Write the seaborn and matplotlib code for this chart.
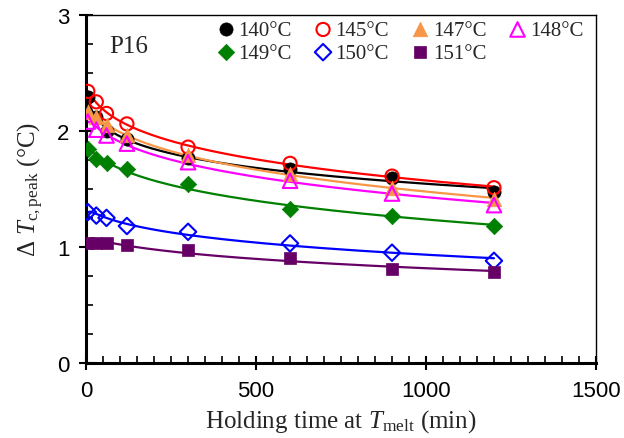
import numpy as np
import pandas as pd
import matplotlib
matplotlib.use("Agg")
import matplotlib.pyplot as plt
from matplotlib.ticker import MultipleLocator
import seaborn as sns

# Holding time at T_melt (min)
time_min = [5, 30, 60, 120, 300, 600, 900, 1200]

# Peak crystallization-temperature shift for each melt temperature
labels = ["140°C", "145°C", "147°C", "148°C", "149°C", "150°C", "151°C"]
dtc_140 = [2.29, 2.12, 2.00, 1.93, 1.77, 1.67, 1.59, 1.47]
dtc_145 = [2.34, 2.25, 2.15, 2.06, 1.86, 1.72, 1.61, 1.51]
dtc_147 = [2.16, 2.12, 2.05, 1.96, 1.79, 1.63, 1.51, 1.41]
dtc_148 = [2.08, 2.01, 1.96, 1.89, 1.73, 1.57, 1.46, 1.36]
dtc_149 = [1.84, 1.76, 1.72, 1.67, 1.54, 1.33, 1.27, 1.18]
dtc_150 = [1.30, 1.27, 1.25, 1.18, 1.13, 1.03, 0.95, 0.88]
dtc_151 = [1.03, 1.03, 1.03, 1.02, 0.97, 0.90, 0.81, 0.78]

series = [dtc_140, dtc_145, dtc_147, dtc_148, dtc_149, dtc_150, dtc_151]
colors = ["#000000", "#FF0000", "#F79646", "#FF00FF", "#008000", "#0000FF", "#660066"]
markers = ["o", "o", "^", "^", "D", "D", "s"]
filled = [True, False, True, False, True, False, True]
sizes = [90, 90, 110, 110, 70, 70, 80]

sns.set_theme(style="white")
plt.rcParams["font.family"] = ["Liberation Serif", "DejaVu Serif"]
plt.rcParams["mathtext.fontset"] = "custom"
plt.rcParams["mathtext.rm"] = "Liberation Serif"
plt.rcParams["mathtext.it"] = "Liberation Serif:italic"

fig = plt.figure(figsize=(6.24, 4.39), dpi=100)
ax = fig.add_axes([0.138, 0.171, 0.817, 0.793])

t = np.array(time_min, dtype=float)
t_fine = np.geomspace(t.min(), t.max(), 200)

for vals, col in zip(series, colors):
    # smooth trend curve: quadratic in log(time)
    coef = np.polyfit(np.log(t), np.array(vals), 2)
    fit = pd.DataFrame({"t": t_fine, "y": np.polyval(coef, np.log(t_fine))})
    sns.lineplot(data=fit, x="t", y="y", ax=ax, color=col, lw=1.6, zorder=2,
                 legend=False)

for vals, col, mk, fl, sz, lab in zip(series, colors, markers, filled, sizes, labels):
    df = pd.DataFrame({"t": time_min, "y": vals})
    if fl:
        sns.scatterplot(data=df, x="t", y="y", ax=ax, marker=mk, s=sz,
                        color=col, edgecolor=col, linewidth=0.5, zorder=3,
                        label=lab)
    else:
        sns.scatterplot(data=df, x="t", y="y", ax=ax, marker=mk, s=sz,
                        facecolor="none", edgecolor=col, linewidth=1.5,
                        zorder=3, label=lab)

ax.set_xlim(0, 1500)
ax.set_ylim(0, 3)
ax.xaxis.set_major_locator(MultipleLocator(500))
ax.xaxis.set_minor_locator(MultipleLocator(50))
ax.yaxis.set_major_locator(MultipleLocator(1))
ax.yaxis.set_minor_locator(MultipleLocator(0.25))

for side in ["left", "bottom"]:
    ax.spines[side].set_linewidth(2.2)
    ax.spines[side].set_color("black")
for side in ["top", "right"]:
    ax.spines[side].set_linewidth(1.0)
    ax.spines[side].set_color("black")

ax.tick_params(which="major", direction="inout", length=10, width=1.5,
               labelsize=16, colors="black", pad=7)
ax.tick_params(which="minor", direction="in", length=5, width=1.2,
               colors="black")
ax.tick_params(bottom=True, left=True, top=False, right=False,
               which="both")
for lbl in ax.get_xticklabels() + ax.get_yticklabels():
    lbl.set_fontfamily("Liberation Sans")

ax.set_xlabel(r"Holding time at $\mathit{T}_{\mathrm{melt}}$ (min)",
              fontsize=18, labelpad=5)
ax.set_ylabel(r"Δ $\mathit{T}_{\mathrm{c,peak}}$ (°C)", fontsize=18,
              labelpad=8)

ax.text(0.045, 0.91, "P16", transform=ax.transAxes, fontsize=18,
        ha="left", va="center")

# legend reads row by row: 140 145 147 148 / 149 150 151
handles, hlabels = ax.get_legend_handles_labels()
order = [0, 4, 1, 5, 2, 6, 3]
ax.legend([handles[i] for i in order], [hlabels[i] for i in order],
          loc="upper right", bbox_to_anchor=(1.0, 1.02), ncol=4,
          frameon=False, fontsize=15, handletextpad=0.0,
          columnspacing=0.9, labelspacing=0.15, handlelength=1.2,
          borderaxespad=0.2)

fig.savefig("out.png", dpi=100)
